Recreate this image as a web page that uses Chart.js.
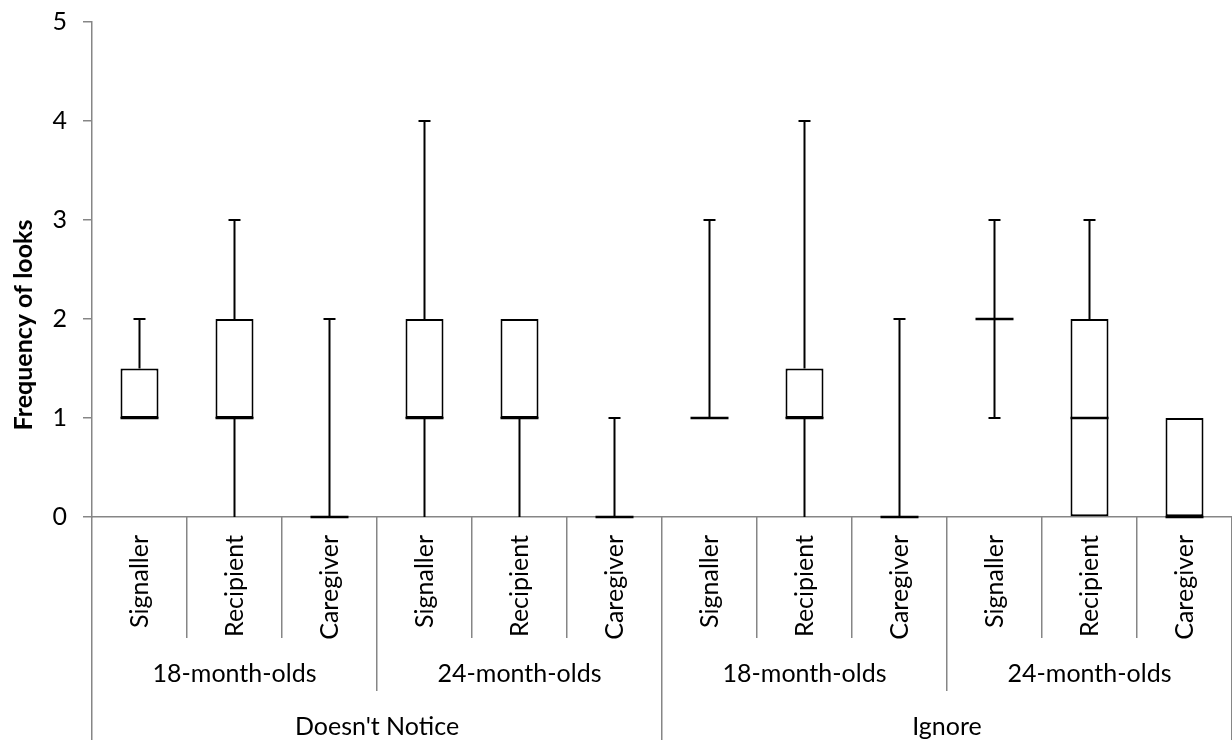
<!DOCTYPE html>
<html>
<head>
<meta charset="utf-8">
<title>Frequency of looks</title>
<script src="https://cdn.jsdelivr.net/npm/chart.js@4.4.1/dist/chart.umd.min.js"></script>
<style>
  html, body { margin: 0; padding: 0; background: #ffffff; }
  #wrap { width: 1232px; height: 740px; position: relative; }
</style>
</head>
<body>
<div id="wrap"><canvas id="chart"></canvas></div>
<script>
// Who the child looked at, per age group and per condition
const roles = ['Signaller', 'Recipient', 'Caregiver', 'Signaller', 'Recipient', 'Caregiver',
               'Signaller', 'Recipient', 'Caregiver', 'Signaller', 'Recipient', 'Caregiver'];
const ageGroups = ['18-month-olds', '24-month-olds', '18-month-olds', '24-month-olds'];
const conditions = ["Doesn't Notice", 'Ignore'];

// Five-number summaries, one entry per role column
const minima         = [1, 0, 0,   0, 0, 0,   1, 0, 0,   1, 0, 0];
const lowerQuartiles = [1, 1, 0,   1, 1, 0,   1, 1, 0,   2, 0, 0];
const medians        = [1, 1, 0,   1, 1, 0,   1, 1, 0,   2, 1, 0];
const upperQuartiles = [1.5, 2, 0, 2, 2, 0,   1, 1.5, 0, 2, 2, 1];
const maxima         = [2, 3, 2,   4, 2, 1,   3, 4, 2,   3, 3, 1];

const yTicks = [0, 1, 2, 3, 4, 5];
const yTitle = 'Frequency of looks';

const FONT = 'Lato, "Open Sans", sans-serif';
const FONT_SIZE = 25;
const AXIS_GREY = '#868686';

// Whiskers, caps and median lines on top of the floating-bar boxes
const whiskerPlugin = {
  id: 'whiskers',
  afterDatasetsDraw(chart) {
    const meta = chart.getDatasetMeta(0);
    const y = chart.scales.y;
    const ctx = chart.ctx;
    ctx.save();
    ctx.strokeStyle = '#000';
    ctx.lineCap = 'butt';
    meta.data.forEach((bar, i) => {
      const x = bar.x;
      const half = bar.width / 2;
      const capHalf = 6;
      const yMin = y.getPixelForValue(minima[i]);
      const yQ1 = y.getPixelForValue(lowerQuartiles[i]);
      const yQ3 = y.getPixelForValue(upperQuartiles[i]);
      const yMax = y.getPixelForValue(maxima[i]);
      const yMed = y.getPixelForValue(medians[i]);
      ctx.lineWidth = 2;
      if (maxima[i] > upperQuartiles[i]) {
        ctx.beginPath(); ctx.moveTo(x, yQ3); ctx.lineTo(x, yMax); ctx.stroke();
        ctx.beginPath(); ctx.moveTo(x - capHalf, yMax); ctx.lineTo(x + capHalf, yMax); ctx.stroke();
      }
      if (minima[i] < lowerQuartiles[i]) {
        ctx.beginPath(); ctx.moveTo(x, yQ1); ctx.lineTo(x, yMin); ctx.stroke();
        if (minima[i] > y.min) {
          ctx.beginPath(); ctx.moveTo(x - capHalf, yMin); ctx.lineTo(x + capHalf, yMin); ctx.stroke();
        }
      }
      ctx.lineWidth = 2.5;
      ctx.beginPath(); ctx.moveTo(x - half, yMed); ctx.lineTo(x + half, yMed); ctx.stroke();
    });
    ctx.restore();
  }
};

// Three-level category axis: roles, age groups, conditions
const groupAxisPlugin = {
  id: 'groupAxis',
  afterDraw(chart) {
    const xs = chart.scales.x;
    const area = chart.chartArea;
    const ctx = chart.ctx;
    const n = roles.length;
    const step = (xs.getPixelForValue(1) - xs.getPixelForValue(0));
    const edge = i => xs.getPixelForValue(i) - step / 2;
    const base = area.bottom;
    const roleEnd = base + 121;
    const ageEnd = base + 174;
    const bottom = chart.height;

    ctx.save();
    ctx.strokeStyle = AXIS_GREY;
    ctx.lineWidth = 1.5;
    for (let i = 0; i <= n; i++) {
      const px = Math.round(edge(i)) - 0.25;
      let end = roleEnd;
      if (i % 6 === 0) end = bottom;
      else if (i % 3 === 0) end = ageEnd;
      ctx.beginPath(); ctx.moveTo(px, base); ctx.lineTo(px, end); ctx.stroke();
    }

    ctx.fillStyle = '#000';
    ctx.font = FONT_SIZE + 'px ' + FONT;
    ctx.textBaseline = 'middle';
    roles.forEach((r, i) => {
      ctx.save();
      ctx.translate(xs.getPixelForValue(i), base + 18);
      ctx.rotate(-Math.PI / 2);
      ctx.textAlign = 'right';
      ctx.fillText(r, 0, 0);
      ctx.restore();
    });

    ctx.textAlign = 'center';
    ageGroups.forEach((a, g) => {
      const cx = (edge(g * 3) + edge(g * 3 + 3)) / 2;
      ctx.fillText(a, cx, base + 157);
    });
    conditions.forEach((c, g) => {
      const cx = (edge(g * 6) + edge(g * 6 + 6)) / 2;
      ctx.fillText(c, cx, base + 210);
    });

    // vertical axis title, centred on the plot plus role labels
    ctx.font = 'bold ' + FONT_SIZE + 'px ' + FONT;
    ctx.save();
    ctx.translate(24, (area.top + roleEnd) / 2 - 5);
    ctx.rotate(-Math.PI / 2);
    ctx.textAlign = 'center';
    ctx.fillText(yTitle, 0, 0);
    ctx.restore();
    ctx.restore();
  }
};

new Chart(document.getElementById('chart'), {
  type: 'bar',
  data: {
    labels: roles,
    datasets: [{
      label: 'Interquartile range',
      data: lowerQuartiles.map((q1, i) => [q1, upperQuartiles[i]]),
      backgroundColor: '#ffffff',
      borderColor: '#000000',
      borderWidth: 2,
      borderSkipped: false,
      categoryPercentage: 1,
      barPercentage: 0.4
    }]
  },
  options: {
    responsive: true,
    maintainAspectRatio: false,
    animation: false,
    devicePixelRatio: 1,
    layout: { padding: { top: 22, bottom: 223, left: 0, right: 0 } },
    plugins: {
      legend: { display: false },
      tooltip: { enabled: false }
    },
    scales: {
      x: {
        type: 'category',
        ticks: { display: false },
        grid: { display: false },
        border: { display: true, color: AXIS_GREY, width: 1.5 },
        afterFit(scale) { scale.height = 0; scale.paddingLeft = 0; scale.paddingRight = 0; }
      },
      y: {
        min: yTicks[0],
        max: yTicks[yTicks.length - 1],
        afterBuildTicks(scale) { scale.ticks = yTicks.map(v => ({ value: v })); },
        ticks: {
          color: '#000',
          font: { family: FONT, size: FONT_SIZE },
          padding: 16
        },
        grid: {
          drawOnChartArea: false,
          drawTicks: true,
          tickLength: 9,
          color: AXIS_GREY,
          lineWidth: 1.5
        },
        border: { display: true, color: AXIS_GREY, width: 1.5 },
        afterFit(scale) { scale.width = 92; scale.paddingTop = 0; scale.paddingBottom = 0; }
      }
    }
  },
  plugins: [whiskerPlugin, groupAxisPlugin]
});
</script>
</body>
</html>
